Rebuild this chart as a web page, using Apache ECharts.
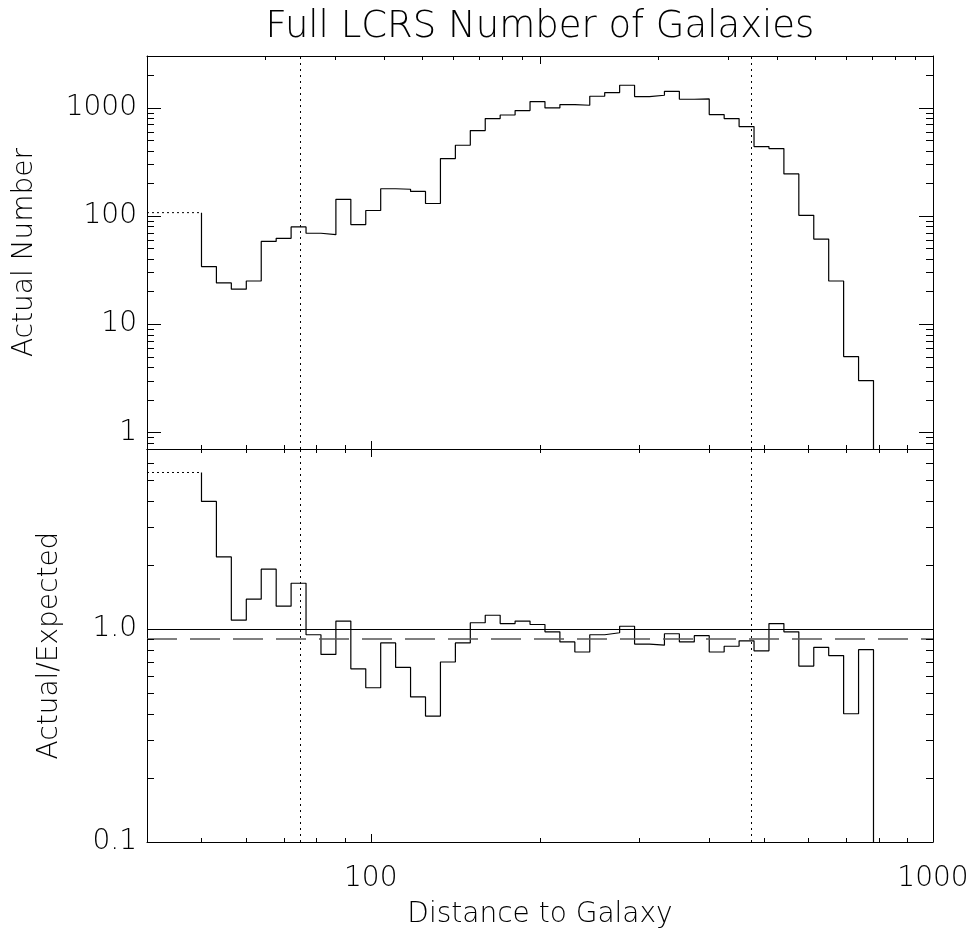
<!DOCTYPE html>
<html>
<head>
<meta charset="utf-8">
<script src="https://cdn.jsdelivr.net/npm/echarts@6/dist/echarts.min.js"></script>
<style>
html,body{margin:0;padding:0;background:#ffffff;}
#chart{width:972px;height:932px;}
</style>
</head>
<body>
<div id="chart"></div>
<script>
// ---------------- data ----------------
// lower/upper edges of the 45 logarithmic distance bins
const binEdges = [50.00, 53.15, 56.50, 60.07, 63.86, 67.89, 72.17, 76.72, 81.56, 86.70,
  92.17, 97.98, 104.16, 110.73, 117.71, 125.14, 133.03, 141.42, 150.34, 159.82,
  169.90, 180.61, 192.00, 204.11, 216.98, 230.67, 245.21, 260.68, 277.12, 294.59,
  313.17, 332.92, 353.91, 376.23, 399.96, 425.18, 451.99, 480.50, 510.80, 543.01,
  577.26, 613.66, 652.36, 693.50, 737.24, 783.73];
// actual number of galaxies per bin (top panel)
const actualCounts = [34, 24, 21, 25, 58, 62, 79, 69, 67, 142,
  83, 112, 178, 176, 168, 130, 338, 449, 614, 793,
  855, 939, 1138, 993, 1067, 1052, 1274, 1377, 1610, 1265,
  1301, 1416, 1195, 1203, 863, 793, 668, 437, 418, 244,
  101, 61, 25, 5, 3];
// actual / expected per bin (bottom panel)
const ratioValues = [3.97, 2.18, 1.10, 1.38, 1.91, 1.28, 1.64, 0.94, 0.76, 1.09,
  0.65, 0.53, 0.86, 0.66, 0.48, 0.39, 0.70, 0.86, 1.07, 1.16,
  1.06, 1.09, 1.05, 0.97, 0.87, 0.78, 0.94, 0.96, 1.03, 0.85,
  0.84, 0.95, 0.87, 0.93, 0.78, 0.83, 0.88, 0.79, 1.06, 0.97,
  0.67, 0.82, 0.75, 0.40, 0.80];
// pooled bin below 50 (drawn dotted)
const underflowStart = 40;
const underflowActual = 107;
const underflowRatio = 5.43;
// vertical dotted markers, horizontal reference levels
const markerDistances = [75, 475];
const unityLevel = 1.0;
const meanRatioLevel = 0.9;

// axis ranges and tick values
const xRange = [40, 1000];
const xTopRange = [1, 100];
const yTopRange = [0.7, 3000];
const yBotRange = [0.1, 7];
const xMajorTicks = [100];
const xMinorTicks = [50, 60, 70, 80, 90, 200, 300, 400, 500, 600, 700, 800, 900];
const xTopMajorTicks = [10];
const xTopMinorTicks = [2, 3, 4, 5, 6, 7, 8, 9, 20, 30, 40, 50, 60, 70, 80, 90];
const yTopMajorTicks = [1, 10, 100, 1000];
const yTopMinorTicks = [0.8, 0.9, 2, 3, 4, 5, 6, 7, 8, 9, 20, 30, 40, 50, 60, 70, 80, 90,
  200, 300, 400, 500, 600, 700, 800, 900, 2000];
const yBotMajorTicks = [1];
const yBotMinorTicks = [0.2, 0.3, 0.4, 0.5, 0.6, 0.7, 0.8, 0.9, 2, 3, 4, 5, 6];

// ---------------- styling ----------------
const FONT = "'DejaVu Sans', sans-serif";
const FW = 200;
const INK = '#000000';

function stepData(startLevel, values, floorValue) {
  const pts = [[binEdges[0], startLevel]];
  values.forEach(function (v, i) { pts.push([binEdges[i], v]); });
  pts.push([binEdges[values.length], values[values.length - 1]]);
  pts.push([binEdges[values.length], floorValue]);
  return pts;
}

function tickSeries(xi, yi, side, values, len, xr, yr) {
  return {
    type: 'custom', xAxisIndex: xi, yAxisIndex: yi, silent: true, animation: false, z: 10,
    data: values.map(function (v) {
      if (side === 'left') return [xr[0], v];
      if (side === 'right') return [xr[1], v];
      if (side === 'bottom') return [v, yr[0]];
      return [v, yr[1]];
    }),
    renderItem: function (params, api) {
      const p = api.coord([api.value(0), api.value(1)]);
      let x1 = p[0], y1 = p[1], x2 = p[0], y2 = p[1];
      if (side === 'left' || side === 'right') {
        y1 = y2 = Math.round(y1) + 0.5;
        x1 = Math.round(x1);
        x2 = x1 + (side === 'left' ? len : -len);
      } else {
        x1 = x2 = Math.round(x1) + 0.5;
        y1 = Math.round(y1);
        y2 = y1 + (side === 'bottom' ? -len : len);
      }
      return { type: 'line', shape: { x1: x1, y1: y1, x2: x2, y2: y2 },
        style: { stroke: INK, lineWidth: 1 } };
    }
  };
}

const axisLineStyle = { show: true, onZero: false, lineStyle: { color: INK, width: 1 } };
const labelStyle = { color: INK, fontFamily: FONT, fontSize: 28, fontWeight: FW };
const plainNum = function (v) { return String(Number(Number(v).toPrecision(4))); };

function bareAxis(extra) {
  return Object.assign({
    type: 'log', logBase: 10,
    axisLine: axisLineStyle,
    axisTick: { show: false },
    axisLabel: { show: false },
    splitLine: { show: false },
    minorTick: { show: false },
    minorSplitLine: { show: false }
  }, extra);
}

const chart = echarts.init(document.getElementById('chart'), null, { renderer: 'canvas' });

const option = {
  backgroundColor: '#ffffff',
  animation: false,
  title: {
    text: 'Full LCRS Number of Galaxies',
    left: 540, top: 9, padding: 0,
    textAlign: 'center',
    textStyle: { color: INK, fontFamily: FONT, fontSize: 37, fontWeight: FW }
  },
  grid: [
    { left: 147, top: 56, width: 786, height: 393, outerBoundsMode: 'none' },
    { left: 147, top: 449, width: 786, height: 393, outerBoundsMode: 'none' }
  ],
  xAxis: [
    bareAxis({ gridIndex: 0, position: 'bottom', min: xRange[0], max: xRange[1] }),
    bareAxis({ gridIndex: 0, position: 'top', min: xTopRange[0], max: xTopRange[1] }),
    bareAxis({
      gridIndex: 1, position: 'bottom', min: xRange[0], max: xRange[1],
      axisLabel: Object.assign({ show: true, margin: 23, showMinLabel: false, formatter: plainNum }, labelStyle),
      name: 'Distance to Galaxy', nameLocation: 'middle', nameGap: 59, nameMoveOverlap: false,
      nameTextStyle: labelStyle
    }),
    bareAxis({ gridIndex: 1, position: 'top', min: xRange[0], max: xRange[1] })
  ],
  yAxis: [
    bareAxis({
      gridIndex: 0, position: 'left', min: yTopRange[0], max: yTopRange[1],
      axisLabel: Object.assign({ show: true, margin: 10, showMinLabel: false, showMaxLabel: false, formatter: plainNum }, labelStyle),
      name: 'Actual Number', nameLocation: 'middle', nameGap: 108, nameMoveOverlap: false,
      nameTextStyle: labelStyle
    }),
    bareAxis({ gridIndex: 0, position: 'right', min: yTopRange[0], max: yTopRange[1] }),
    bareAxis({
      gridIndex: 1, position: 'left', min: yBotRange[0], max: yBotRange[1],
      axisLabel: Object.assign({ show: true, margin: 10, showMaxLabel: false,
        formatter: function (v) { return Number(v).toFixed(1); } }, labelStyle),
      name: 'Actual/Expected', nameLocation: 'middle', nameGap: 83, nameMoveOverlap: false,
      nameTextStyle: labelStyle
    }),
    bareAxis({ gridIndex: 1, position: 'right', min: yBotRange[0], max: yBotRange[1] })
  ],
  series: [
    // top panel histogram
    {
      type: 'line', xAxisIndex: 0, yAxisIndex: 0, step: 'end', silent: true,
      showSymbol: false, symbol: 'none', clip: true,
      lineStyle: { color: INK, width: 1.2 },
      data: stepData(underflowActual, actualCounts, yTopRange[0]),
      markLine: {
        silent: true, symbol: 'none', label: { show: false },
        lineStyle: { color: INK, width: 1, type: [2, 4] },
        data: markerDistances.map(function (d) { return { xAxis: d }; })
      }
    },
    {
      type: 'line', xAxisIndex: 0, yAxisIndex: 0, silent: true, showSymbol: false, symbol: 'none',
      lineStyle: { color: INK, width: 1, type: [2, 3] },
      data: [[underflowStart, underflowActual], [binEdges[0], underflowActual]]
    },
    // bottom panel ratio histogram
    {
      type: 'line', xAxisIndex: 2, yAxisIndex: 2, step: 'end', silent: true,
      showSymbol: false, symbol: 'none', clip: true,
      lineStyle: { color: INK, width: 1.2 },
      data: stepData(underflowRatio, ratioValues, yBotRange[0]),
      markLine: {
        silent: true, symbol: 'none', label: { show: false },
        lineStyle: { color: INK, width: 1, type: [2, 4] },
        data: markerDistances.map(function (d) { return { xAxis: d }; }).concat([
          { yAxis: unityLevel, lineStyle: { type: 'solid', color: INK, width: 1 } },
          { yAxis: meanRatioLevel, lineStyle: { type: [30, 13], color: '#555555', width: 1.5 } }
        ])
      }
    },
    {
      type: 'line', xAxisIndex: 2, yAxisIndex: 2, silent: true, showSymbol: false, symbol: 'none',
      lineStyle: { color: INK, width: 1, type: [2, 3] },
      data: [[underflowStart, underflowRatio], [binEdges[0], underflowRatio]]
    },
    // ticks, top panel
    tickSeries(0, 0, 'left', yTopMajorTicks, 14, xRange, yTopRange),
    tickSeries(0, 0, 'left', yTopMinorTicks, 7, xRange, yTopRange),
    tickSeries(0, 0, 'right', yTopMajorTicks, 14, xRange, yTopRange),
    tickSeries(0, 0, 'right', yTopMinorTicks, 7, xRange, yTopRange),
    tickSeries(0, 0, 'bottom', xMajorTicks, 8, xRange, yTopRange),
    tickSeries(0, 0, 'bottom', xMinorTicks, 4, xRange, yTopRange),
    tickSeries(1, 0, 'top', xTopMajorTicks, 8, xTopRange, yTopRange),
    tickSeries(1, 0, 'top', xTopMinorTicks, 4, xTopRange, yTopRange),
    // ticks, bottom panel
    tickSeries(2, 2, 'left', yBotMajorTicks, 14, xRange, yBotRange),
    tickSeries(2, 2, 'left', yBotMinorTicks, 7, xRange, yBotRange),
    tickSeries(2, 2, 'right', yBotMajorTicks, 14, xRange, yBotRange),
    tickSeries(2, 2, 'right', yBotMinorTicks, 7, xRange, yBotRange),
    tickSeries(2, 2, 'bottom', xMajorTicks, 8, xRange, yBotRange),
    tickSeries(2, 2, 'bottom', xMinorTicks, 4, xRange, yBotRange),
    tickSeries(2, 2, 'top', xMajorTicks, 8, xRange, yBotRange),
    tickSeries(2, 2, 'top', xMinorTicks, 4, xRange, yBotRange)
  ]
};

chart.setOption(option);
</script>
</body>
</html>
